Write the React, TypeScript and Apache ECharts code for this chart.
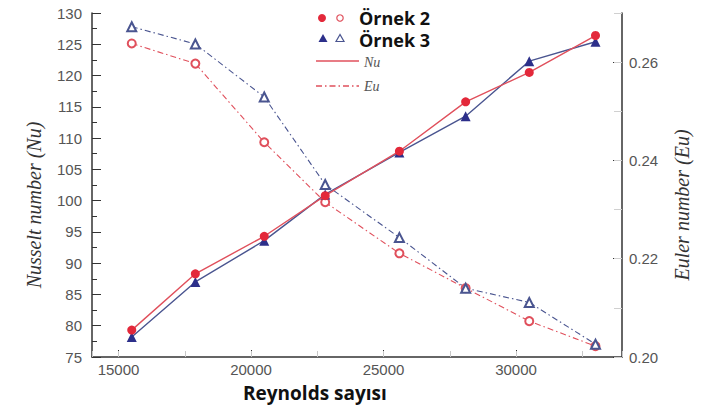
import { useEffect, useRef } from "react";
import * as echarts from "echarts";

// Reynolds numbers shared by every series
const reynolds = [15500, 17900, 20500, 22800, 25600, 28100, 30500, 33000];

// Nusselt number (left axis)
const nuOrnek2 = [79.3, 88.3, 94.3, 100.8, 107.9, 115.8, 120.5, 126.4];
const nuOrnek3 = [78.2, 87.0, 93.6, 101.0, 107.7, 113.5, 122.3, 125.4];

// Euler number (right axis)
const euOrnek2 = [0.2638, 0.2597, 0.2437, 0.2315, 0.2211, 0.214, 0.2073, 0.2022];
const euOrnek3 = [0.2672, 0.2637, 0.2529, 0.2351, 0.2243, 0.214, 0.2111, 0.2026];

const legendNames = ["Örnek 2", "Örnek 3"];
const lineLegendNames = ["Nu", "Eu"];

const RED = "#e3283a";
const RED_LINE = "#e0505c";
const BLUE = "#2c2f8a";
const BLUE_LINE = "#4a5590";
const DASH_DOT = [6, 3, 1.5, 3];

const pairs = (ys: number[]) => reynolds.map((x, i) => [x, ys[i]]);

export default function App() {
  const ref = useRef<HTMLDivElement>(null);

  useEffect(() => {
    const chart = echarts.init(ref.current!, null, { renderer: "svg" });
    const tickLabel = {
      color: "#555",
      fontSize: 15,
      fontFamily: "Liberation Sans, Arial, sans-serif",
    };
    // rotated titles sit a little below the plot's middle
    const axisTitle = {
      color: "#333",
      fontSize: 20,
      fontStyle: "italic",
      fontFamily: "Liberation Serif, Times New Roman, serif",
      padding: [0, 40, 0, 0],
    };
    const legendBold = {
      fontSize: 18,
      fontWeight: "bold",
      fontFamily: "Open Sans, sans-serif",
      fill: "#111",
      verticalAlign: "middle",
    };
    const legendItalic = {
      fontSize: 14,
      fontStyle: "italic",
      fontFamily: "Liberation Serif, serif",
      fill: "#555",
      verticalAlign: "middle",
    };
    chart.setOption({
      animation: false,
      backgroundColor: "#fff",
      grid: { left: 92, right: 79, top: 13, bottom: 59, containLabel: false },
      xAxis: [
        {
          type: "value",
          min: 14000,
          max: 34000,
          minInterval: 5000,
          maxInterval: 5000,
          axisLine: { lineStyle: { color: "#333", width: 1.5 } },
          axisTick: { inside: true, length: 7, lineStyle: { color: "#333" } },
          axisLabel: {
            ...tickLabel,
            margin: 5,
            showMinLabel: false,
            showMaxLabel: false,
            formatter: (v: number) => String(v),
          },
          splitLine: { show: false },
        },
        {
          type: "value",
          min: 14000,
          max: 34000,
          minInterval: 2500,
          maxInterval: 2500,
          position: "bottom",
          axisLine: { show: false },
          axisTick: { inside: true, length: 6, lineStyle: { color: "#c8c8c8" } },
          axisLabel: { show: false },
          splitLine: { show: false },
        },
      ],
      yAxis: [
        {
          type: "value",
          position: "left",
          min: 75,
          max: 130,
          interval: 5,
          name: "Nusselt number (Nu)",
          nameLocation: "middle",
          nameRotate: 90,
          nameGap: 48,
          nameTextStyle: axisTitle,
          axisLine: { show: true, lineStyle: { color: "#333", width: 1.5 } },
          axisTick: { show: true, inside: true, length: 9, lineStyle: { color: "#333" } },
          minorTick: { show: true, splitNumber: 2, length: 5, lineStyle: { color: "#333" } },
          axisLabel: { ...tickLabel, margin: 10 },
          splitLine: { show: false },
        },
        {
          type: "value",
          position: "right",
          min: 0.2,
          max: 0.27,
          minInterval: 0.02,
          maxInterval: 0.02,
          name: "Euler number (Eu)",
          nameLocation: "middle",
          nameRotate: 90,
          nameGap: 50,
          nameTextStyle: axisTitle,
          axisLine: { show: true, lineStyle: { color: "#333", width: 1.5 } },
          axisTick: { show: true, inside: true, length: 9, lineStyle: { color: "#333" } },
          axisLabel: {
            ...tickLabel,
            margin: 7,
            showMaxLabel: false,
            formatter: (v: number) => v.toFixed(2),
          },
          splitLine: { show: false },
        },
        {
          type: "value",
          position: "right",
          min: 0.2,
          max: 0.27,
          interval: 0.01,
          axisLine: { show: false },
          axisTick: { show: true, inside: true, length: 8, lineStyle: { color: "#d0d0d0" } },
          axisLabel: { show: false },
          splitLine: { show: false },
        },
      ],
      series: [
        {
          name: "Eu Örnek 2",
          type: "line",
          yAxisIndex: 1,
          data: pairs(euOrnek2),
          symbol: "emptyCircle",
          symbolSize: 8,
          itemStyle: { color: RED_LINE, borderWidth: 1.2 },
          lineStyle: { color: RED_LINE, width: 1.1, type: DASH_DOT },
          z: 2,
        },
        {
          name: "Eu Örnek 3",
          type: "line",
          yAxisIndex: 1,
          data: pairs(euOrnek3),
          symbol: "emptyTriangle",
          symbolSize: 9,
          itemStyle: { color: BLUE_LINE, borderWidth: 1.2 },
          lineStyle: { color: BLUE_LINE, width: 1.1, type: DASH_DOT },
          z: 2,
        },
        {
          name: "Nu Örnek 3",
          type: "line",
          yAxisIndex: 0,
          data: pairs(nuOrnek3),
          symbol: "triangle",
          symbolSize: 10,
          itemStyle: { color: BLUE },
          lineStyle: { color: BLUE_LINE, width: 1.4 },
          z: 3,
        },
        {
          name: "Nu Örnek 2",
          type: "line",
          yAxisIndex: 0,
          data: pairs(nuOrnek2),
          symbol: "circle",
          symbolSize: 9,
          itemStyle: { color: RED },
          lineStyle: { color: RED_LINE, width: 1.4 },
          z: 4,
        },
      ],
      graphic: [
        // legend: markers for each sample
        { type: "circle", shape: { cx: 322, cy: 18, r: 4 }, style: { fill: RED } },
        { type: "circle", shape: { cx: 340, cy: 18, r: 3.2 }, style: { fill: "#fff", stroke: RED_LINE, lineWidth: 1.2 } },
        { type: "text", x: 359, y: 18, style: { text: legendNames[0], ...legendBold } },
        { type: "polygon", shape: { points: [[323, 34], [318.5, 42], [327.5, 42]] }, style: { fill: BLUE } },
        { type: "polygon", shape: { points: [[340, 34.5], [336, 41.5], [344, 41.5]] }, style: { fill: "#fff", stroke: BLUE_LINE, lineWidth: 1.2 } },
        { type: "text", x: 359, y: 40, style: { text: legendNames[1], ...legendBold } },
        // legend: line styles for each quantity
        { type: "line", shape: { x1: 316, y1: 61, x2: 359, y2: 61 }, style: { stroke: RED_LINE, lineWidth: 1.3 } },
        { type: "text", x: 364, y: 62, style: { text: lineLegendNames[0], ...legendItalic } },
        { type: "line", shape: { x1: 316, y1: 86, x2: 359, y2: 86 }, style: { stroke: RED_LINE, lineWidth: 1.3, lineDash: DASH_DOT } },
        { type: "text", x: 364, y: 86, style: { text: lineLegendNames[1], ...legendItalic } },
        // x axis title
        {
          type: "text",
          x: 243,
          y: 393,
          style: {
            text: "Reynolds sayısı",
            fontSize: 19,
            fontWeight: "bold",
            fontFamily: "Open Sans, sans-serif",
            fill: "#111",
            verticalAlign: "middle",
          },
        },
      ],
    });
    return () => chart.dispose();
  }, []);

  return (
    <div
      ref={ref}
      style={{ position: "absolute", left: 0, top: 0, width: 701, height: 416, background: "#fff" }}
    />
  );
}
